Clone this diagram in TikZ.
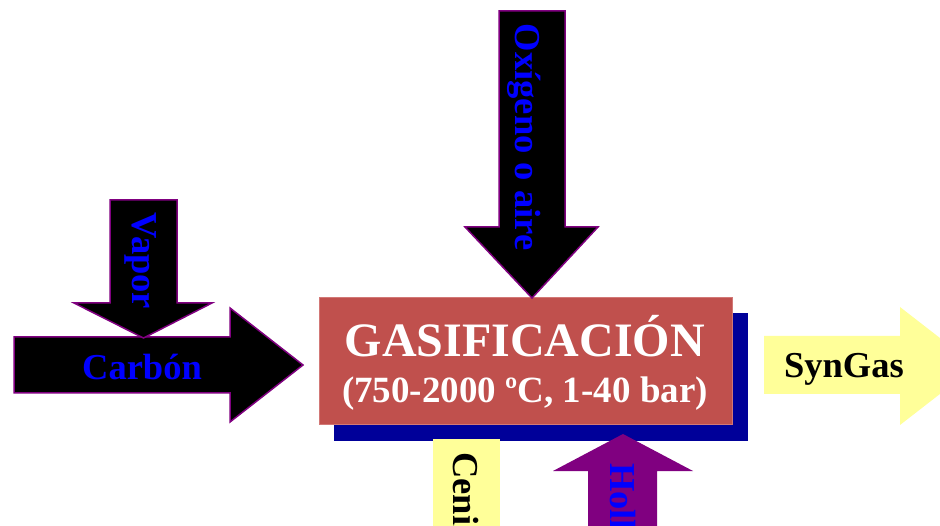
\documentclass[tikz,border=0pt]{standalone}
\usepackage{fontspec}
\setmainfont{Liberation Serif}
\definecolor{redbox}{RGB}{192,80,77}
\definecolor{rededge}{RGB}{210,120,118}
\definecolor{shadowblue}{RGB}{0,0,153}
\definecolor{arrowpurple}{RGB}{128,0,128}
\definecolor{textblue}{RGB}{0,0,255}
\definecolor{lightyellow}{RGB}{255,255,153}
\begin{document}
\begin{tikzpicture}[x=1pt,y=-1pt,
  blackarrow/.style={fill=black,draw=arrowpurple,line width=1.5pt,line join=miter},
  lbl/.style={font=\fontsize{36.5}{40}\bfseries\selectfont,inner sep=0pt},
  vlbl/.style={lbl,rotate=-90},
  titlelbl/.style={font=\fontsize{48}{52}\bfseries\selectfont,inner sep=0pt,text=white},
  sublbl/.style={font=\fontsize{37}{40}\bfseries\selectfont,inner sep=0pt,text=white}]
\useasboundingbox (0,0) rectangle (940,526);
\clip (0,0) rectangle (940,526);
% shadow and main box
\fill[shadowblue] (334,313) rectangle (748,441);
\node (gas) [fill=redbox,draw=rededge,line width=0.6pt,minimum width=413pt,minimum height=127pt,anchor=north west,inner sep=0pt] at (319,297) {};
\node (gastitle) [titlelbl,anchor=base] at (525,357) {GASIFICACIÓN};
\node (gassub) [sublbl,anchor=base] at (525,403) {(750-2000 ºC, 1-40 bar)};
% Carbon arrow
\draw[blackarrow] (14,337) -- (230,337) -- (230,308) -- (303,365) -- (230,422) -- (230,393) -- (14,393) -- cycle;
\node (carbon) [lbl,text=textblue,anchor=base] at (142,380) {Carbón};
% Vapor arrow
\draw[blackarrow] (110,200) -- (177,200) -- (177,303) -- (212,303) -- (143.5,338) -- (74,303) -- (110,303) -- cycle;
\node (vapor) [vlbl,text=textblue,anchor=base] at (132,261) {Vapor};
% Oxigeno arrow
\draw[blackarrow] (499,11) -- (565,11) -- (565,227) -- (598,227) -- (532,298) -- (465,227) -- (499,227) -- cycle;
\node (oxigeno) [vlbl,text=textblue,anchor=base] at (515,137) {Oxígeno o aire};
% SynGas arrow
\fill[lightyellow] (764,336) -- (900,336) -- (900,307) -- (976,366) -- (900,425) -- (900,394) -- (764,394) -- cycle;
\node (syngas) [lbl,text=black,anchor=base] at (844,378) {SynGas};
% Cenizas
\fill[lightyellow] (433,439) rectangle (500,540);
\node (cenizas) [vlbl,text=black,anchor=base west] at (453,452) {Cenizas};
% Hollin arrow
\fill[arrowpurple] (623,434) -- (693,471) -- (657,471) -- (657,540) -- (588,540) -- (588,471) -- (553,471) -- cycle;
\node (hollin) [vlbl,text=textblue,anchor=base west] at (610,463) {Hollín};
\end{tikzpicture}
\end{document}
